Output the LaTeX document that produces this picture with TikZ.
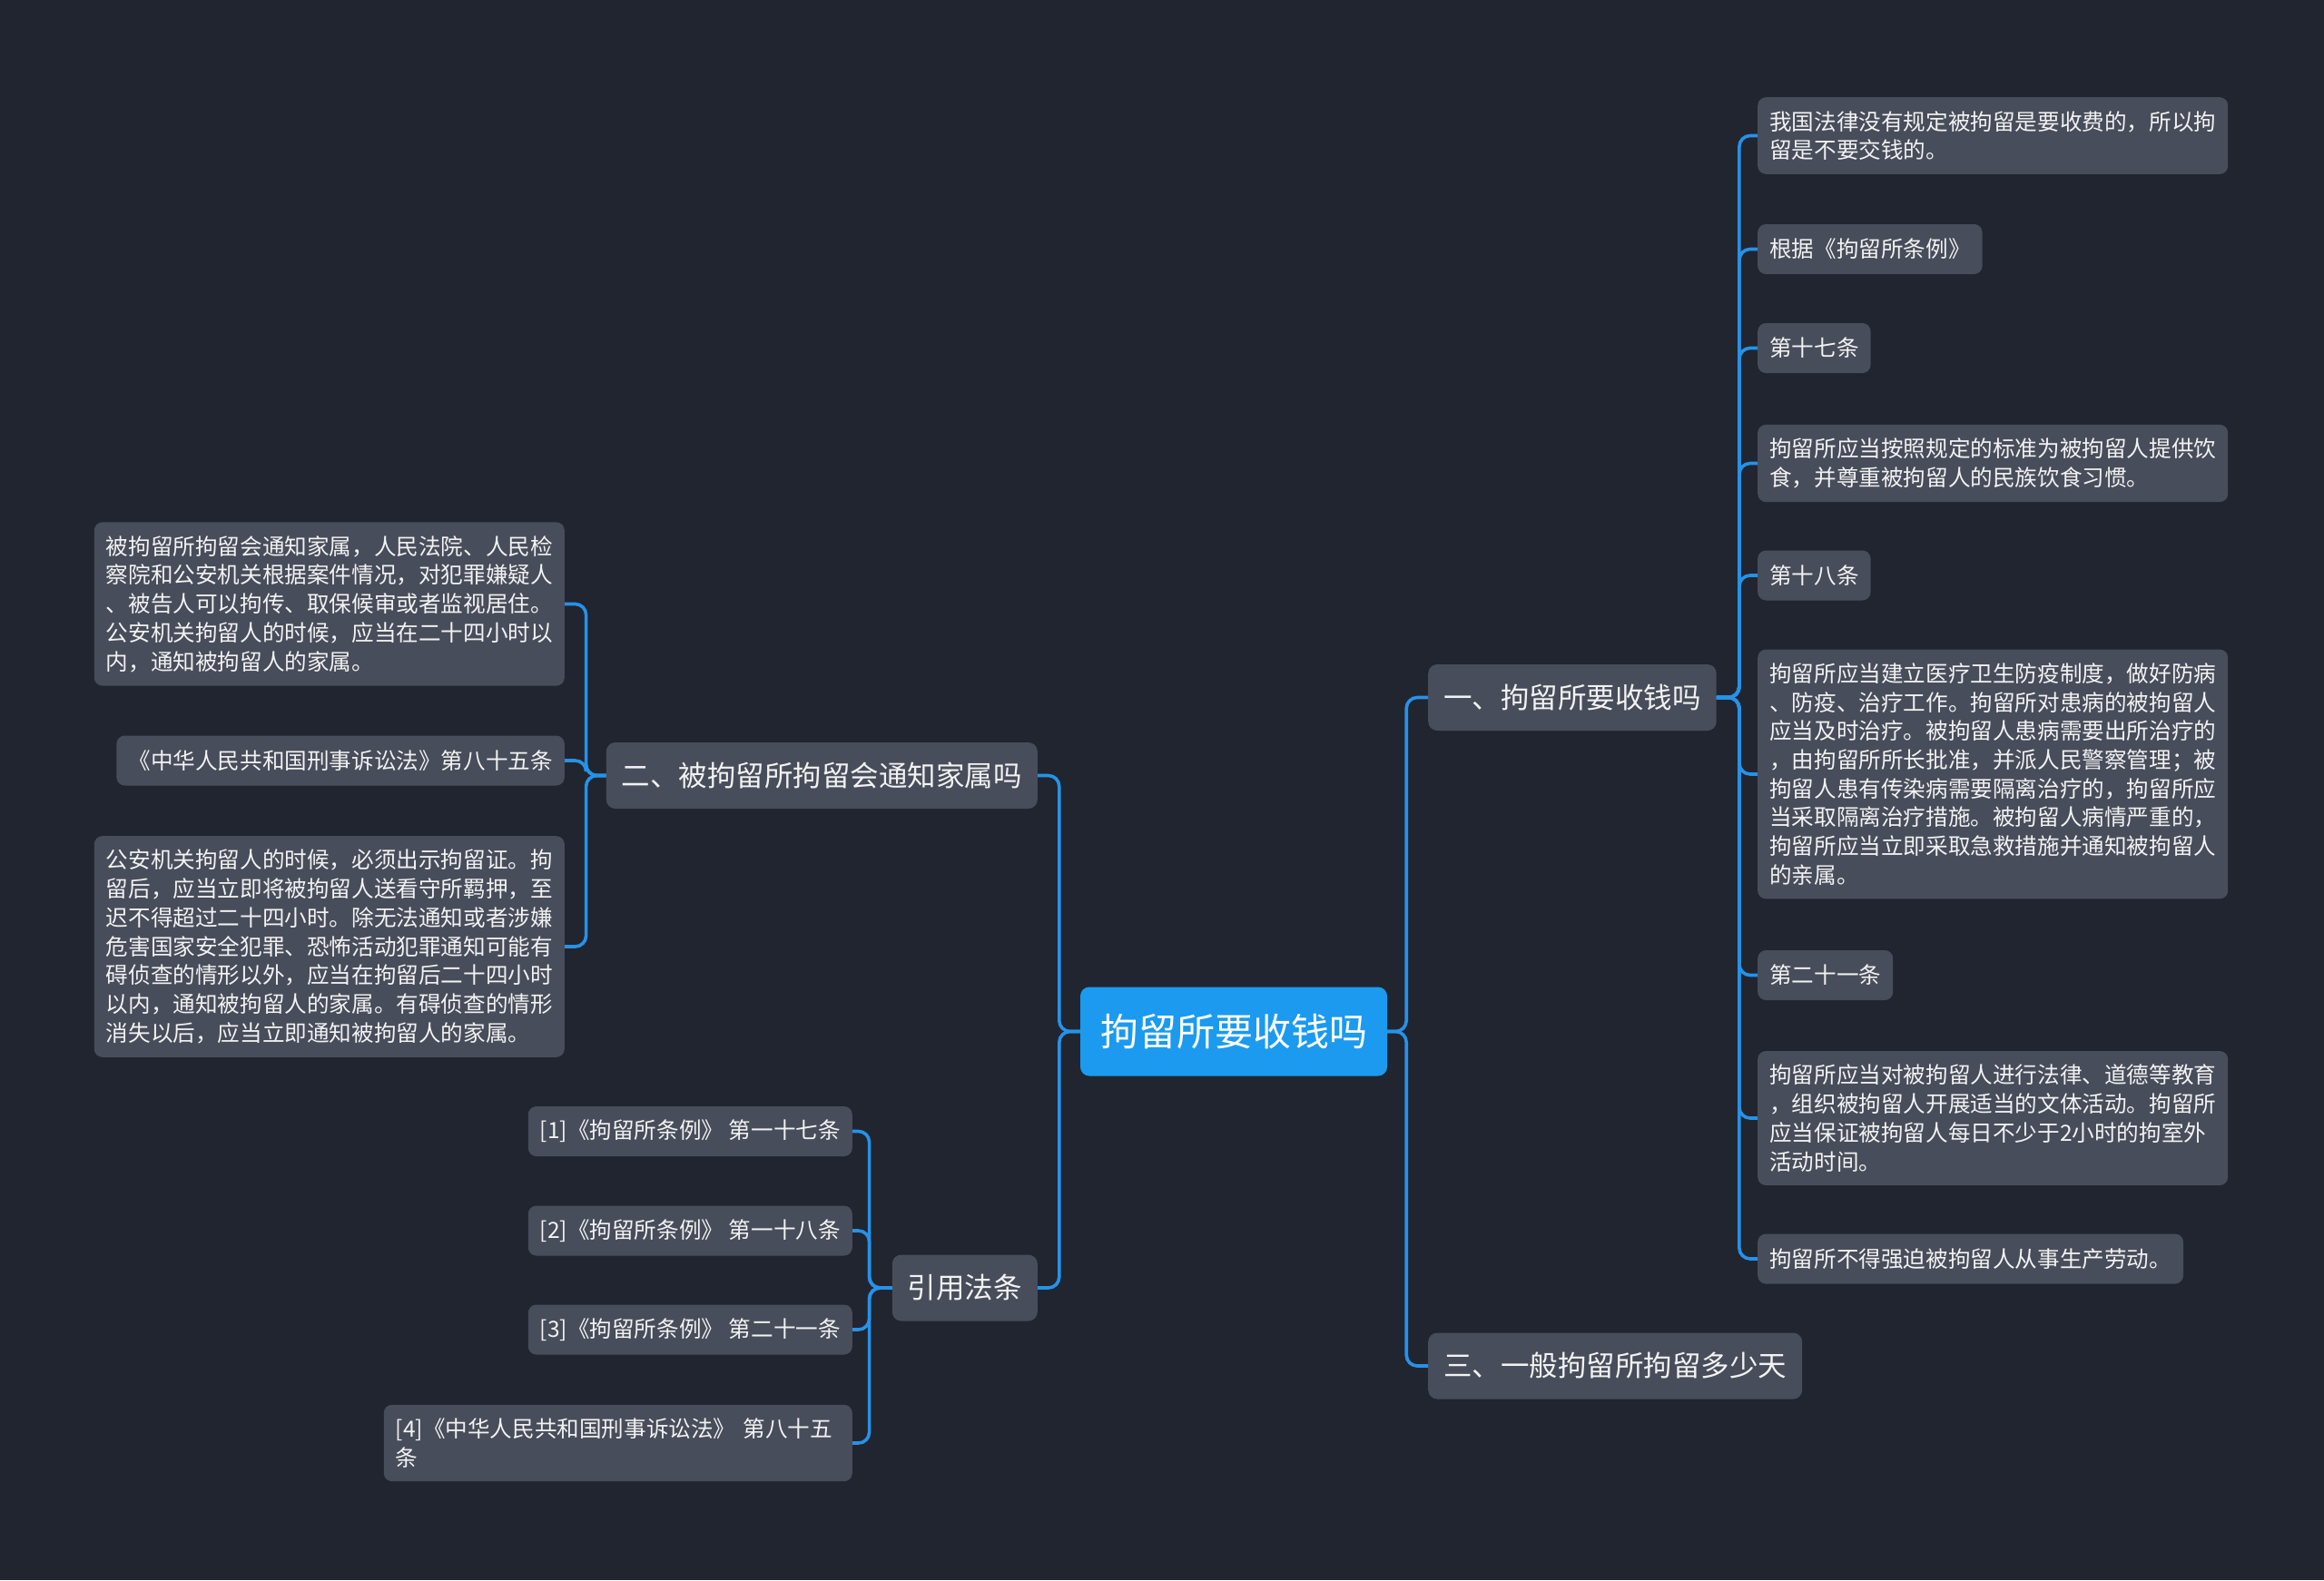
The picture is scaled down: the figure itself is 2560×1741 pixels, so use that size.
\documentclass[tikz,border=0pt]{standalone}
\usepackage{fontspec}
\setmainfont{Noto Sans CJK SC}
\usetikzlibrary{positioning, calc}

\begin{document}
\begin{tikzpicture}[x=1pt, y=-1pt,
    leaf/.style={fill=boxcolor, rounded corners=9pt, text=textcolor, inner xsep=13pt, inner ysep=15pt, minimum height=55pt, align=left, font=\fontsize{24.6}{31.7}\selectfont},
    branch/.style={fill=boxcolor, rounded corners=10pt, text=textcolor, inner xsep=17pt, minimum height=73pt, font=\fontsize{31.5}{38}\selectfont},
    link/.style={draw=linecolor, line width=3.6pt, rounded corners=12pt}]
            % 颜色
            \definecolor{bgcolor}{RGB}{33,37,48}
            \definecolor{boxcolor}{RGB}{72,77,91}
            \definecolor{rootcolor}{RGB}{27,154,240}
            \definecolor{linecolor}{RGB}{38,146,232}
            \definecolor{textcolor}{RGB}{242,242,242}

            % 背景
            \fill[bgcolor] (0,0) rectangle (2560,1741);
            \useasboundingbox (0,0) rectangle (2560,1741);

            % 中心
            \node[fill=rootcolor, rounded corners=10pt, text=white, minimum width=338pt, minimum height=98pt, font=\fontsize{42}{50}\selectfont] (root) at (1359,1136.5) {拘留所要收钱吗};

            % 分支
            \node[branch, anchor=west] (b1) at (1573,768.5) {一、拘留所要收钱吗};
            \node[branch, anchor=west] (b3) at (1573,1505) {三、一般拘留所拘留多少天};
            \node[branch, anchor=east] (b2) at (1143,854.5) {二、被拘留所拘留会通知家属吗};
            \node[branch, anchor=east] (cite) at (1143,1419) {引用法条};

            % 一、右侧
            \node[leaf, anchor=west] (r1) at (1936,149.5) {我国法律没有规定被拘留是要收费的，所以拘\\留是不要交钱的。};
            \node[leaf, anchor=west] (r2) at (1936,274.5) {根据《拘留所条例》};
            \node[leaf, anchor=west] (r3) at (1936,383.5) {第十七条};
            \node[leaf, anchor=west] (r4) at (1936,510.5) {拘留所应当按照规定的标准为被拘留人提供饮\\食，并尊重被拘留人的民族饮食习惯。};
            \node[leaf, anchor=west] (r5) at (1936,634) {第十八条};
            \node[leaf, anchor=west] (r6) at (1936,853) {拘留所应当建立医疗卫生防疫制度，做好防病\\、防疫、治疗工作。拘留所对患病的被拘留人\\应当及时治疗。被拘留人患病需要出所治疗的\\，由拘留所所长批准，并派人民警察管理；被\\拘留人患有传染病需要隔离治疗的，拘留所应\\当采取隔离治疗措施。被拘留人病情严重的，\\拘留所应当立即采取急救措施并通知被拘留人\\的亲属。};
            \node[leaf, anchor=west] (r7) at (1936,1074.5) {第二十一条};
            \node[leaf, anchor=west] (r8) at (1936,1232) {拘留所应当对被拘留人进行法律、道德等教育\\，组织被拘留人开展适当的文体活动。拘留所\\应当保证被拘留人每日不少于2小时的拘室外\\活动时间。};
            \node[leaf, anchor=west] (r9) at (1936,1387) {拘留所不得强迫被拘留人从事生产劳动。};

            % 二、左侧
            \node[leaf, anchor=east] (l1) at (622,665.5) {被拘留所拘留会通知家属，人民法院、人民检\\察院和公安机关根据案件情况，对犯罪嫌疑人\\、被告人可以拘传、取保候审或者监视居住。\\公安机关拘留人的时候，应当在二十四小时以\\内，通知被拘留人的家属。};
            \node[leaf, anchor=east] (l2) at (622,838) {《中华人民共和国刑事诉讼法》第八十五条};
            \node[leaf, anchor=east] (l3) at (622,1043) {公安机关拘留人的时候，必须出示拘留证。拘\\留后，应当立即将被拘留人送看守所羁押，至\\迟不得超过二十四小时。除无法通知或者涉嫌\\危害国家安全犯罪、恐怖活动犯罪通知可能有\\碍侦查的情形以外，应当在拘留后二十四小时\\以内，通知被拘留人的家属。有碍侦查的情形\\消失以后，应当立即通知被拘留人的家属。};

            % 引用法条
            \node[leaf, anchor=east] (c1) at (939,1246.5) {[1]《拘留所条例》 第一十七条};
            \node[leaf, anchor=east] (c2) at (939,1356) {[2]《拘留所条例》 第一十八条};
            \node[leaf, anchor=east] (c3) at (939,1465) {[3]《拘留所条例》 第二十一条};
            \node[leaf, anchor=east, text width=490pt] (c4) at (939,1590) {[4]《中华人民共和国刑事诉讼法》 第八十五\\条};

            % 中心到分支
            \draw[link] (root.east) -- ++(21,0) |- (b1.west);
            \draw[link] (root.east) -- ++(21,0) |- (b3.west);
            \draw[link] (root.west) -- ++(-23,0) |- (b2.east);
            \draw[link] (root.west) -- ++(-23,0) |- (cite.east);

            % 一、到右侧
            \draw[link] (b1.east) -- ++(25,0) |- (r1.west);
            \draw[link] (b1.east) -- ++(25,0) |- (r2.west);
            \draw[link] (b1.east) -- ++(25,0) |- (r3.west);
            \draw[link] (b1.east) -- ++(25,0) |- (r4.west);
            \draw[link] (b1.east) -- ++(25,0) |- (r5.west);
            \draw[link] (b1.east) -- ++(25,0) |- (r6.west);
            \draw[link] (b1.east) -- ++(25,0) |- (r7.west);
            \draw[link] (b1.east) -- ++(25,0) |- (r8.west);
            \draw[link] (b1.east) -- ++(25,0) |- (r9.west);

            % 二、到左侧
            \draw[link] (b2.west) -- ++(-22,0) |- (l1.east);
            \draw[link] (b2.west) -- ++(-22,0) |- (l2.east);
            \draw[link] (b2.west) -- ++(-22,0) |- (l3.east);

            % 引用法条到条文
            \draw[link] (cite.west) -- ++(-25,0) |- (c1.east);
            \draw[link] (cite.west) -- ++(-25,0) |- (c2.east);
            \draw[link] (cite.west) -- ++(-25,0) |- (c3.east);
            \draw[link] (cite.west) -- ++(-25,0) |- (c4.east);

        \end{tikzpicture}
\end{document}
